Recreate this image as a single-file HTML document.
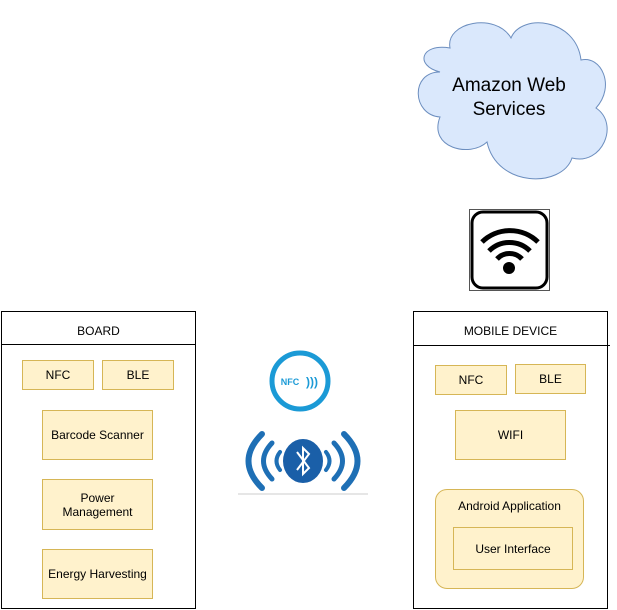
<html><head><style>
body{margin:0;width:617px;height:610px;background:#fff;position:relative;font-family:"Liberation Sans",sans-serif;overflow:hidden}
.b{position:absolute;box-sizing:border-box}
.y{background:#fff2cc;border:1px solid #d6b656;display:flex;align-items:center;justify-content:center;text-align:center;font-size:12px;color:#000}
.c{border:1px solid #000;background:#fff}
</style></head><body>
<div class="b c" style="left:1px;top:311px;width:195px;height:298px"></div>
<div class="b" style="left:1px;top:344px;width:195px;height:1px;background:#000"></div>
<div class="b" style="left:1px;top:324px;width:195px;text-align:center;font-size:12px">BOARD</div>
<div class="b y" style="left:22px;top:360px;width:72px;height:30px">NFC</div>
<div class="b y" style="left:102px;top:360px;width:72px;height:30px">BLE</div>
<div class="b y" style="left:42px;top:410px;width:111px;height:50px">Barcode Scanner</div>
<div class="b y" style="left:42px;top:479px;width:111px;height:51px">Power<br>Management</div>
<div class="b y" style="left:42px;top:549px;width:111px;height:50px">Energy Harvesting</div>

<div class="b c" style="left:413px;top:311px;width:195px;height:298px"></div>
<div class="b" style="left:413px;top:345px;width:197px;height:1px;background:#000"></div>
<div class="b" style="left:413px;top:324px;width:195px;text-align:center;font-size:12px">MOBILE DEVICE</div>
<div class="b y" style="left:435px;top:365px;width:72px;height:30px">NFC</div>
<div class="b y" style="left:515px;top:364px;width:71px;height:30px">BLE</div>
<div class="b y" style="left:455px;top:410px;width:111px;height:50px">WIFI</div>
<div class="b y" style="left:435px;top:489px;width:149px;height:100px;border-radius:12px;align-items:flex-start;padding-top:9px">Android Application</div>
<div class="b y" style="left:453px;top:527px;width:120px;height:43px">User Interface</div>

<svg class="b" style="left:0;top:0" width="617" height="610">
<path d="M440,72 C410,72 412,115 440,117 C428,148 470,158 487,142 C497,188 562,188 572,158 C602,166 620,124 596,108 C616,86 601,55 581,60 C576,18 521,13 511,38 C496,12 445,22 450,48 C420,43 415,66 440,72 Z" fill="#dae8fc" stroke="#6c8ebf"/>
<text x="509" y="91" font-size="19" text-anchor="middle" font-family="Liberation Sans">Amazon Web</text>
<text x="509" y="115" font-size="19" text-anchor="middle" font-family="Liberation Sans">Services</text>
<rect x="469.5" y="209.5" width="80" height="81" fill="#fff" stroke="#555"/>
<rect x="472" y="212" width="75" height="76" rx="11" fill="#fff" stroke="#000" stroke-width="3"/>
<path d="M482,242 A40,40 0 0 1 538,242" fill="none" stroke="#000" stroke-width="5"/>
<path d="M489,251 A29,29 0 0 1 530,251" fill="none" stroke="#000" stroke-width="5"/>
<path d="M497,259 A17,17 0 0 1 522,259" fill="none" stroke="#000" stroke-width="5"/>
<circle cx="509" cy="268" r="6" fill="#000"/>
<circle cx="300" cy="381" r="28" fill="#fff" stroke="#1b9ad6" stroke-width="5"/>
<text x="290" y="385" font-size="9" font-weight="bold" fill="#1b9ad6" text-anchor="middle" font-family="Liberation Sans">NFC</text>
<text x="312" y="386" font-size="12" font-weight="bold" fill="#1b9ad6" text-anchor="middle" font-family="Liberation Sans">)))</text>
<line x1="238" y1="494" x2="368" y2="494" stroke="#ccc"/>
<g fill="none" stroke="#1e6fb5" stroke-linecap="round">
<path d="M262,434 Q235,461 262,488" stroke-width="6"/>
<path d="M272,443 Q255,461 272,479" stroke-width="5"/>
<path d="M280,452 Q273,461 280,470" stroke-width="4"/>
<path d="M344,434 Q371,461 344,488" stroke-width="6"/>
<path d="M334,443 Q351,461 334,479" stroke-width="5"/>
<path d="M326,452 Q333,461 326,470" stroke-width="4"/>
</g>
<ellipse cx="303" cy="461" rx="20" ry="22" fill="#1a5fa8"/>
<path d="M297,452 L309,468 L303,474 L303,448 L309,454 L297,470" fill="none" stroke="#fff" stroke-width="2"/>
</svg>
</body></html>
